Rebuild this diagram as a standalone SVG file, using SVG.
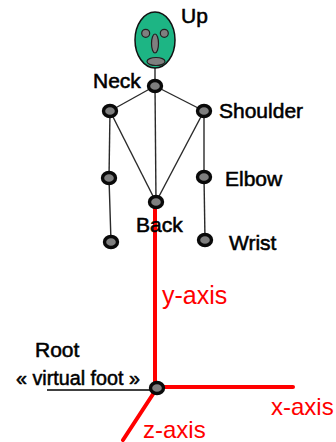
<svg xmlns="http://www.w3.org/2000/svg" width="336" height="442" viewBox="0 0 336 442">
  <style>
    .lbl { font-family: "Liberation Sans", Arial, sans-serif; font-size: 21px; fill: #000; stroke: #000; stroke-width: 0.55px; }
    .axl { font-family: "Liberation Sans", Arial, sans-serif; font-size: 24px; fill: #ff0000; }
    .bone { stroke: #2a2a2a; stroke-width: 1.4; fill: none; }
    .axis { stroke: #ff0000; stroke-width: 4; stroke-linecap: round; fill: none; }
    .joint { fill: #7f7f7f; stroke: #0a0a0a; stroke-width: 3.4; }
    .face { fill: #7f7f7f; stroke: #222; stroke-width: 1.2; }
  </style>
  <rect width="336" height="442" fill="#fff"/>

  <!-- skeleton bones -->
  <g id="connectors">
    <line class="bone" x1="155" y1="68" x2="155" y2="86"/>
    <line class="bone" x1="155" y1="86" x2="110" y2="111"/>
    <line class="bone" x1="155" y1="86" x2="204" y2="111"/>
    <line class="bone" x1="155" y1="86" x2="156" y2="202"/>
    <line class="bone" x1="110" y1="111" x2="109" y2="178"/>
    <line class="bone" x1="109" y1="178" x2="111" y2="242"/>
    <line class="bone" x1="110" y1="111" x2="156" y2="202"/>
    <line class="bone" x1="204" y1="111" x2="156" y2="202"/>
    <line class="bone" x1="204" y1="111" x2="204" y2="177"/>
    <line class="bone" x1="204" y1="177" x2="205" y2="240"/>
    <!-- coordinate axes -->
    <line class="axis" x1="155" y1="204" x2="155" y2="388"/>
    <line class="axis" x1="157" y1="387" x2="293" y2="387"/>
    <line class="axis" x1="157" y1="388" x2="123" y2="440"/>
    <line x1="47" y1="390" x2="150" y2="390" stroke="#000" stroke-width="1.3"/>
  </g>

  <g id="head">
    <ellipse cx="155" cy="40" rx="20" ry="28" fill="#1db584" stroke="#111" stroke-width="1.5"/>
    <circle class="face" cx="145.7" cy="33.3" r="4"/>
    <circle class="face" cx="164.3" cy="33.3" r="4"/>
    <ellipse class="face" cx="155" cy="43.5" rx="3.5" ry="9.5"/>
    <ellipse class="face" cx="156" cy="61.5" rx="9" ry="4"/>
    <text class="lbl" x="181" y="23">Up</text>
  </g>

  <g id="neck">
    <ellipse class="joint" cx="155" cy="86" rx="6.5" ry="5.5"/>
    <text class="lbl" x="93" y="88">Neck</text>
  </g>
  <g id="shoulder-left">
    <ellipse class="joint" cx="110" cy="111" rx="6.5" ry="5.5"/>
  </g>
  <g id="shoulder-right">
    <ellipse class="joint" cx="204" cy="111" rx="6.5" ry="5.5"/>
    <text class="lbl" x="219" y="118">Shoulder</text>
  </g>
  <g id="elbow-left">
    <ellipse class="joint" cx="109" cy="178" rx="6.5" ry="5.5"/>
  </g>
  <g id="elbow-right">
    <ellipse class="joint" cx="204" cy="177" rx="6.5" ry="5.5"/>
    <text class="lbl" x="225" y="186">Elbow</text>
  </g>
  <g id="back">
    <ellipse class="joint" cx="156" cy="202" rx="6.5" ry="5.5"/>
    <text class="lbl" x="136" y="232">Back</text>
  </g>
  <g id="wrist-left">
    <ellipse class="joint" cx="111" cy="242" rx="6.5" ry="5.5"/>
  </g>
  <g id="wrist-right">
    <ellipse class="joint" cx="205" cy="240" rx="6.5" ry="5.5"/>
    <text class="lbl" x="229" y="250">Wrist</text>
  </g>

  <g id="root">
    <ellipse class="joint" cx="157" cy="388" rx="6.5" ry="5.5"/>
    <text class="lbl" x="35" y="357">Root</text>
    <text class="lbl" x="16" y="385" textLength="124" lengthAdjust="spacingAndGlyphs">« virtual foot »</text>
  </g>

  <g id="axis-labels">
    <text class="axl" x="162" y="304" style="font-size:25px">y-axis</text>
    <text class="axl" x="271" y="415">x-axis</text>
    <text class="axl" x="143" y="438">z-axis</text>
  </g>
</svg>
